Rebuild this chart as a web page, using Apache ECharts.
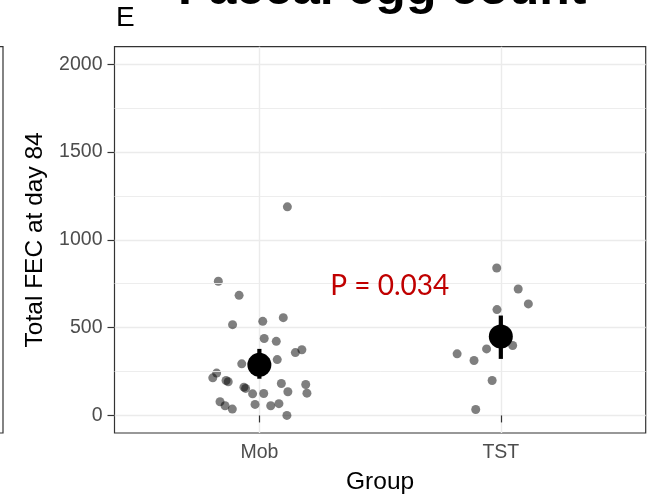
<!DOCTYPE html>
<html>
<head>
<meta charset="utf-8">
<script src="https://cdn.jsdelivr.net/npm/echarts@6.0.0/dist/echarts.min.js"></script>
<style>
  html, body { margin: 0; padding: 0; background: #fff; }
  #chart { width: 659px; height: 497px; }
</style>
</head>
<body>
<div id="chart"></div>
<script>
// group names on the x axis (positions 1 and 2)
var groups = ['Mob', 'TST'];

// jittered points, Mob group
var mobX = [0.830, 0.916, 0.889, 1.014, 1.099, 1.020, 1.070, 1.149, 1.176, 0.927, 1.074,
            0.823, 0.807, 0.862, 0.871, 0.936, 0.943, 0.972, 1.018, 1.091, 1.118, 1.192,
            1.197, 0.837, 0.858, 0.888, 0.982, 1.047, 1.081, 1.114, 1.116];
var mobY = [764, 684, 517, 536, 557, 438, 422, 358, 374, 294, 318,
            241, 214, 199, 192, 161, 154, 123, 125, 182, 135, 176,
            127, 78, 55, 36, 63, 55, 67, 0, 1188];

// jittered points, TST group
var tstX = [1.983, 2.072, 2.114, 1.984, 1.941, 2.049, 1.819, 1.889, 1.964, 1.896];
var tstY = [840, 720, 635, 603, 379, 398, 351, 313, 199, 34];

// mean and interval per group
var meanY = [288, 449];
var lowerY = [209, 322];
var upperY = [379, 569];

// y axis breaks
var yTicks = [0, 500, 1000, 1500, 2000];
var yMinor = [250, 750, 1250, 1750];

var pText = 'P = 0.034';
var pPos = [1.54, 739];

var chart = echarts.init(document.getElementById('chart'));

function pairs(xs, ys) {
  return xs.map(function (x, i) { return [x, ys[i]]; });
}

var gridColor = '#EBEBEB';
var darkGrey = '#333333';

chart.setOption({
  backgroundColor: '#ffffff',
  animation: false,
  title: [
    {
      text: 'Faecal egg count',
      left: 173, top: -40,
      textStyle: { fontFamily: 'Liberation Sans', fontWeight: 'bold', fontSize: 50, color: '#000' }
    },
    {
      text: 'E',
      left: 111, top: -1,
      textStyle: { fontFamily: 'Liberation Sans', fontWeight: 'normal', fontSize: 28, color: '#000' }
    }
  ],
  grid: [
    { left: 114.5, right: 13.3, top: 46.7, bottom: 64, show: true,
      borderColor: darkGrey, borderWidth: 1.2, backgroundColor: 'transparent', outerBoundsMode: 'none' },
    // edge of the neighbouring panel
    { left: -200, width: 203, top: 46.7, bottom: 64, show: true,
      borderColor: darkGrey, borderWidth: 1.2, backgroundColor: 'transparent', outerBoundsMode: 'none' }
  ],
  xAxis: [
    {
      type: 'value', gridIndex: 0, min: 0.4, max: 2.6,
      name: 'Group', nameLocation: 'middle', nameGap: 37,
      nameTextStyle: { fontFamily: 'Liberation Sans', fontSize: 24.5, color: '#000' },
      axisLine: { show: false },
      axisTick: { show: true, length: 7, customValues: [1, 2], lineStyle: { color: darkGrey, width: 1.2 } },
      axisLabel: {
        customValues: [1, 2], margin: 10,
        fontFamily: 'Liberation Sans', fontSize: 19.5, color: '#4D4D4D',
        formatter: function (v) { return groups[Math.round(v) - 1] || ''; }
      },
      splitLine: { show: true, lineStyle: { color: gridColor, width: 1.4 } }
    },
    { type: 'value', gridIndex: 1, show: false, splitLine: { show: false } }
  ],
  yAxis: [
    {
      type: 'value', gridIndex: 0, min: -100, max: 2100,
      name: 'Total FEC at day 84', nameLocation: 'middle', nameGap: 49,
      nameTextStyle: { fontFamily: 'Liberation Sans', fontSize: 24.5, color: '#000' },
      axisLine: { show: false },
      axisTick: { show: true, length: 7, customValues: yTicks, lineStyle: { color: darkGrey, width: 1.2 } },
      axisLabel: {
        customValues: yTicks, margin: 12,
        fontFamily: 'Liberation Sans', fontSize: 19.5, color: '#4D4D4D',
        formatter: function (v) { return String(v); }
      },
      splitLine: { show: true, lineStyle: { color: gridColor, width: 1.4 } }
    },
    { type: 'value', gridIndex: 1, show: false, splitLine: { show: false } }
  ],
  series: [
    {
      // minor horizontal grid lines
      type: 'line', xAxisIndex: 0, yAxisIndex: 0, data: [], silent: true,
      markLine: {
        silent: true, symbol: ['none', 'none'], label: { show: false },
        lineStyle: { color: gridColor, width: 0.9, type: 'solid' },
        data: yMinor.map(function (v) { return { yAxis: v }; })
      }
    },
    {
      type: 'scatter', name: 'Mob', data: pairs(mobX, mobY),
      symbolSize: 9, itemStyle: { color: '#000', opacity: 0.5 }, z: 3
    },
    {
      type: 'scatter', name: 'TST', data: pairs(tstX, tstY),
      symbolSize: 9, itemStyle: { color: '#000', opacity: 0.5 }, z: 3
    },
    {
      type: 'custom', name: 'interval',
      data: groups.map(function (g, i) { return [i + 1, lowerY[i], upperY[i]]; }),
      encode: { x: 0, y: [1, 2] },
      renderItem: function (params, api) {
        var a = api.coord([api.value(0), api.value(1)]);
        var b = api.coord([api.value(0), api.value(2)]);
        return {
          type: 'line',
          shape: { x1: a[0], y1: a[1], x2: b[0], y2: b[1] },
          style: { stroke: '#000', lineWidth: 4.2 }
        };
      },
      z: 4
    },
    {
      type: 'scatter', name: 'mean',
      data: groups.map(function (g, i) { return [i + 1, meanY[i]]; }),
      symbolSize: 24, itemStyle: { color: '#000', opacity: 1 }, z: 5
    },
    {
      type: 'scatter', name: 'p', data: [pPos], symbolSize: 0, silent: true,
      itemStyle: { opacity: 1 },
      label: {
        show: true, position: 'inside', formatter: pText,
        fontFamily: 'Lato', fontSize: 28, color: '#C00000', opacity: 1
      },
      z: 6
    }
  ]
});
</script>
</body>
</html>
